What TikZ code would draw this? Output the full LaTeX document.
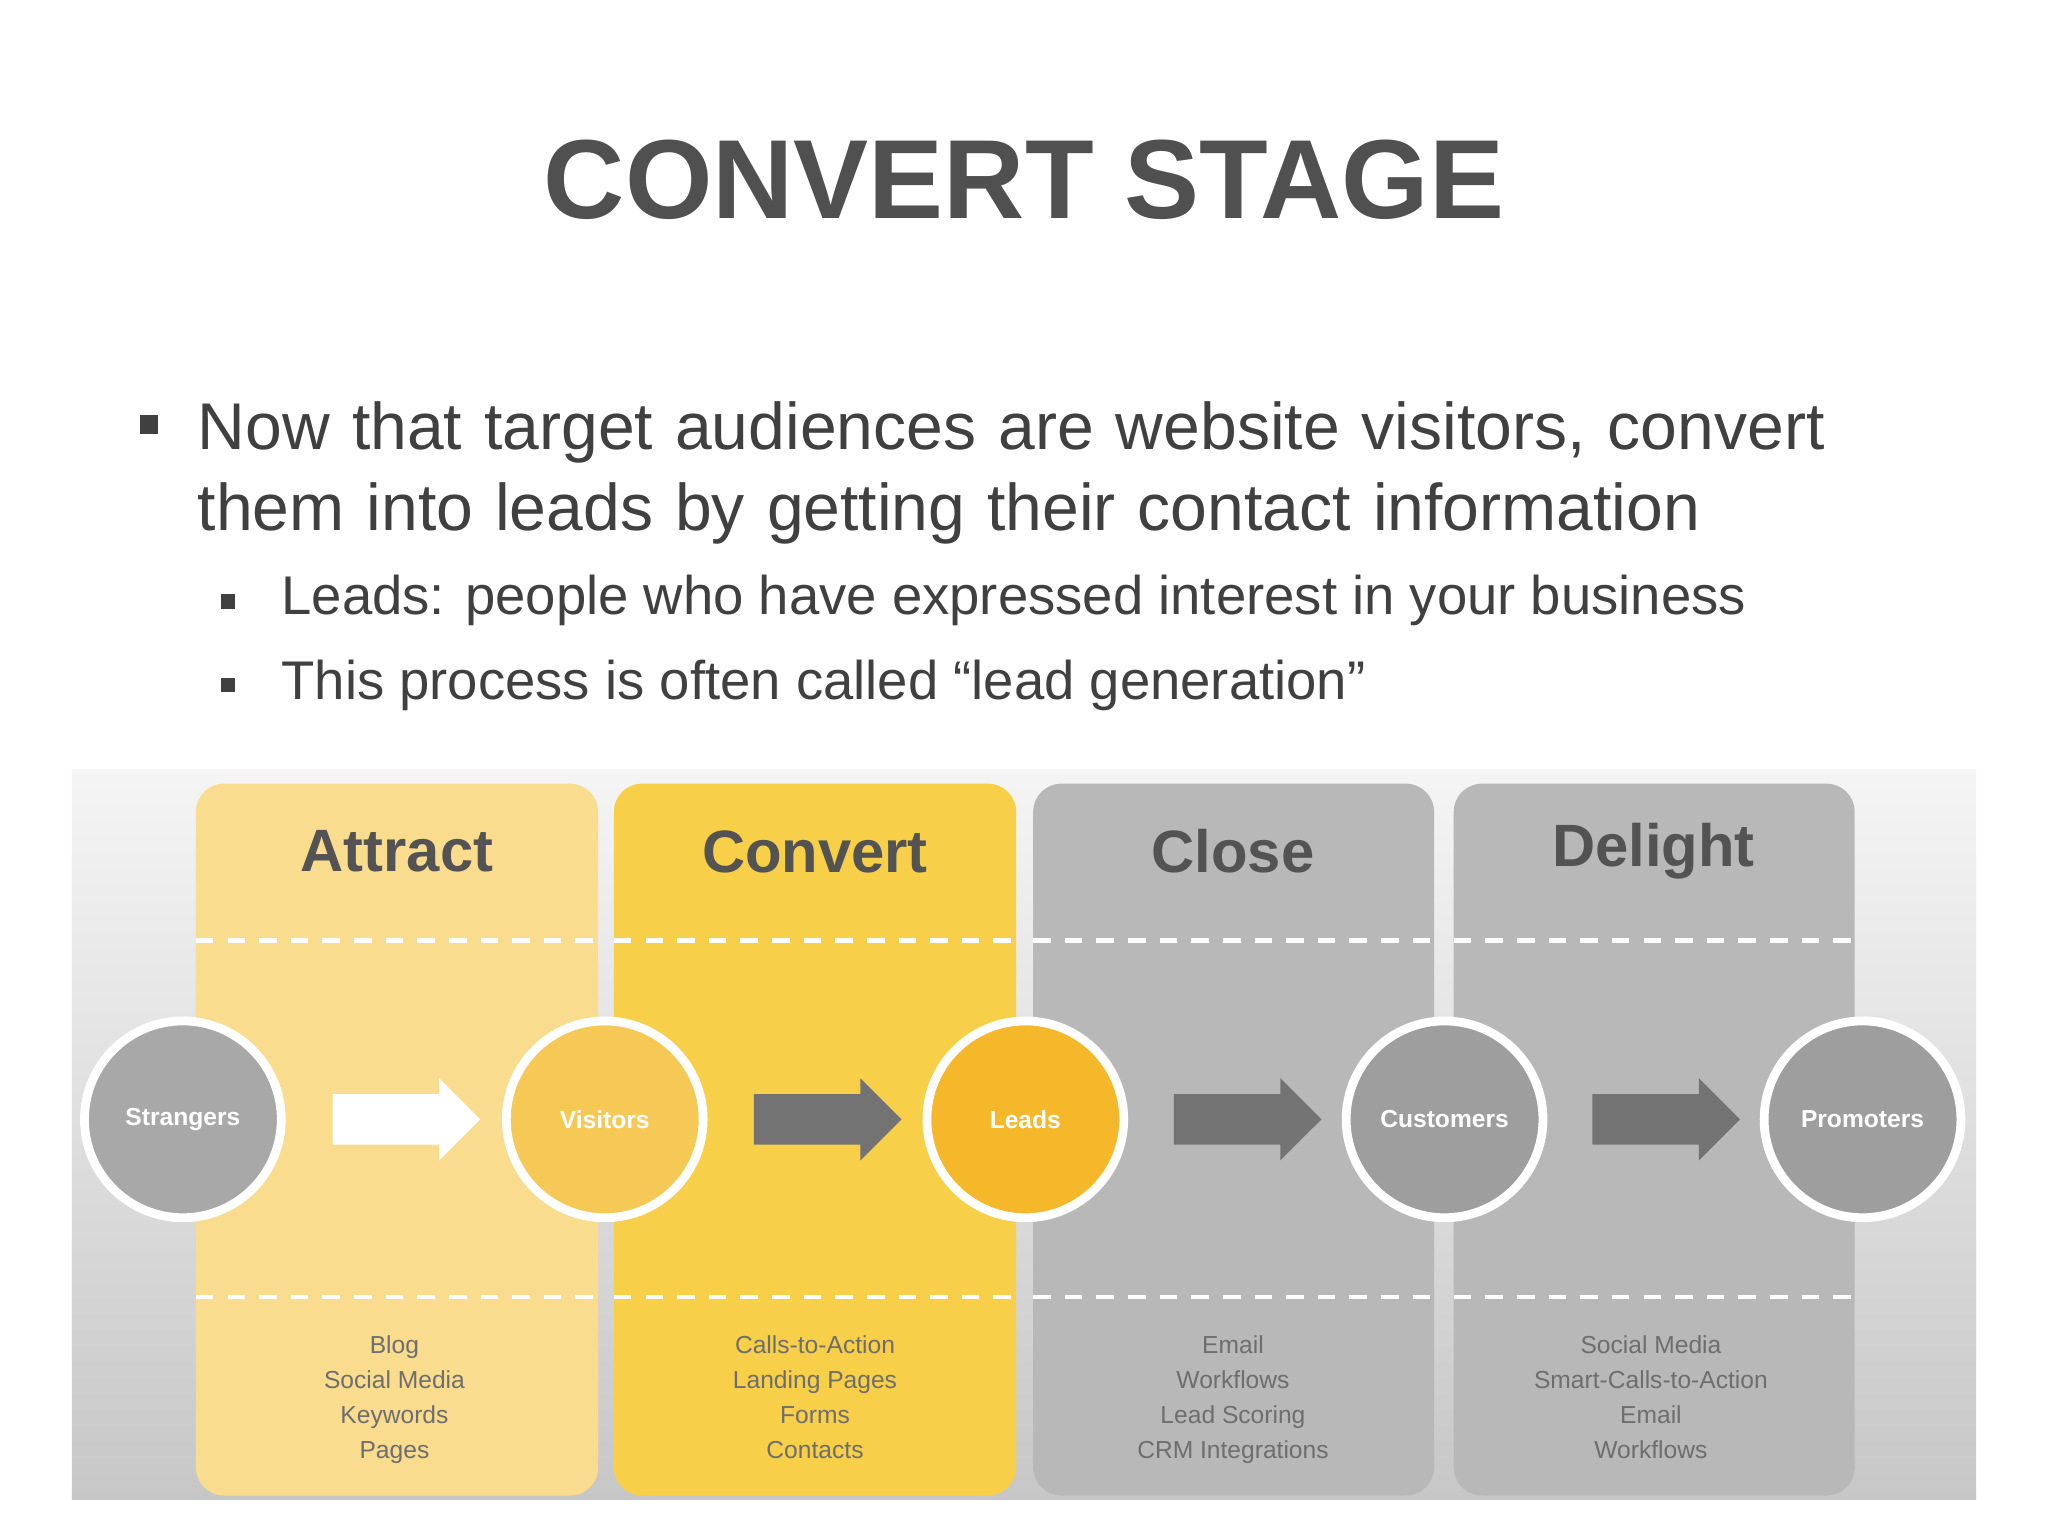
\documentclass[tikz,border=0pt]{standalone}
\usepackage{fontspec}
\setmainfont{Liberation Sans}
\usetikzlibrary{shapes.arrows,positioning}
\definecolor{titlegray}{HTML}{505050}
\definecolor{textgray}{HTML}{404040}
\definecolor{attractcol}{HTML}{F9DC8E}
\definecolor{convertcol}{HTML}{F8CF48}
\definecolor{closecol}{HTML}{B8B8B8}
\definecolor{listgray}{HTML}{6E6E6E}
\definecolor{visitcol}{HTML}{F6C957}
\definecolor{leadcol}{HTML}{F5B82A}
\tikzset{
  column/.style={fill=#1,rounded corners=8pt,draw=none},
  head/.style={font=\fontsize{17}{20}\selectfont\bfseries,text=textgray!90},
  stage/.style={circle,draw=white,line width=2.5pt,minimum size=56pt,inner sep=0pt,
    fill=#1,text=white,font=\fontsize{7}{8}\selectfont\bfseries},
  flow/.style={single arrow,fill=#1,minimum height=42pt,
    single arrow head extend=4.5pt,inner xsep=0pt,inner ysep=7pt,draw=none},
  items/.style={align=center,text=listgray,font=\fontsize{7}{10}\selectfont},
  dashline/.style={white,line width=1.2pt,dash pattern=on 5pt off 4pt}
}
\begin{document}
\begin{tikzpicture}[x=0.01306cm,y=-0.01306cm]
  \useasboundingbox[fill=white] (0,0) rectangle (1568,1176);
  % title and bullets
  \node[text=titlegray,font=\fontsize{32}{36}\selectfont\bfseries] (title) at (784,138) {CONVERT STAGE};
  \node[anchor=north west,text=textgray,font=\fontsize{18.8}{23}\selectfont,text width=17.5cm,align=left]
    (txt) at (142,298) {Now that target audiences are website visitors, convert\\them into leads by getting their contact information};
  \node[anchor=west,text=textgray,font=\fontsize{15.5}{18}\selectfont] (sub1) at (206,460) {Leads: people who have expressed interest in your business};
  \node[anchor=west,text=textgray,font=\fontsize{15.5}{18}\selectfont] (sub2) at (206,525) {This process is often called “lead generation”};
  \fill[textgray] (107,318) rectangle (121,332);
  \fill[textgray] (169,455) rectangle (180,466);
  \fill[textgray] (169,519) rectangle (180,530);
  % diagram background
  \shade[top color=white!96!black,bottom color=white!78!black] (55,589) rectangle (1513,1148);
  \fill[column=attractcol] (150,600) rectangle (458,1145);
  \fill[column=convertcol] (470,600) rectangle (778,1145);
  \fill[column=closecol] (791,600) rectangle (1098,1145);
  \fill[column=closecol] (1113,600) rectangle (1420,1145);
  \foreach \xa/\xb in {150/458,470/778,791/1098,1113/1420}{
    \draw[dashline] (\xa,720) -- (\xb,720);
    \draw[dashline] (\xa,993) -- (\xb,993);
  }
  % headers
  \node[head] (attract) at (304,652) {Attract};
  \node[head] (convert) at (624,652) {Convert};
  \node[head] (close) at (944,652) {Close};
  \node[head] (delight) at (1266,652) {Delight};
  % stages
  \node[stage=white!66!black] (strangers) at (140,857) {Strangers};
  \node[stage=visitcol] (visitors) at (463,857) {Visitors};
  \node[stage=leadcol] (leads) at (785,857) {Leads};
  \node[stage=white!62!black] (customers) at (1106,857) {Customers};
  \node[stage=white!62!black] (promoters) at (1426,857) {Promoters};
  % arrows
  \path (strangers) -- node[flow=white] (a1) {} (visitors);
  \path (visitors) -- node[flow=white!45!black] (a2) {} (leads);
  \path (leads) -- node[flow=white!45!black] (a3) {} (customers);
  \path (customers) -- node[flow=white!45!black] (a4) {} (promoters);
  % lists
  \node[items,anchor=north] (l1) at (302,1013) {Blog\\Social Media\\Keywords\\Pages};
  \node[items,anchor=north] (l2) at (624,1013) {Calls-to-Action\\Landing Pages\\Forms\\Contacts};
  \node[items,anchor=north] (l3) at (944,1013) {Email\\Workflows\\Lead Scoring\\CRM Integrations};
  \node[items,anchor=north] (l4) at (1264,1013) {Social Media\\Smart-Calls-to-Action\\Email\\Workflows};
\end{tikzpicture}
\end{document}
